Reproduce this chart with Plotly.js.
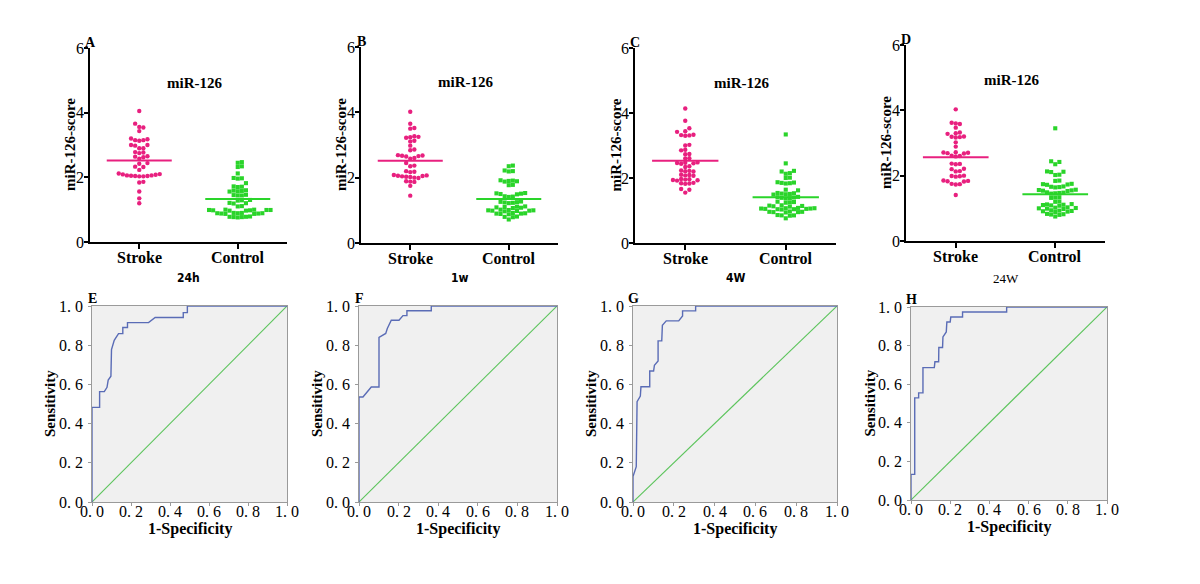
<!DOCTYPE html>
<html><head><meta charset="utf-8">
<script src="https://cdn.plot.ly/plotly-3.0.1.min.js"></script>
<style>html,body{margin:0;padding:0;background:#fff}#chart{width:1200px;height:584px}</style>
</head><body><div id="chart"></div>
<script>
// ---------------- data ----------------
const categories = ['Stroke', 'Control'];
const timeLabels = ['24h', '1w', '4W', '24W'];
const panelLetters = ['A', 'B', 'C', 'D', 'E', 'F', 'G', 'H'];
const scoreTitle = 'miR-126-score';
const markerTitle = 'miR-126';
const scoreTicks = [0, 2, 4, 6];
const rocTicks = [0, 0.2, 0.4, 0.6, 0.8, 1.0];
const rocTickText = ['0.\u00a00', '0.\u00a02', '0.\u00a04', '0.\u00a06', '0.\u00a08', '1.\u00a00'];

const strokeA = [4.05, 3.66, 3.56, 3.54, 3.43, 3.2, 3.18, 3.15, 3.15, 3.13, 3.0, 3.0, 2.98, 2.9, 2.9, 2.78, 2.77, 2.75, 2.65, 2.64, 2.62, 2.58, 2.44, 2.42, 2.33, 2.32, 2.23, 2.12, 2.1, 2.08, 2.06, 2.05, 2.04, 2.03, 2.03, 2.04, 2.06, 2.09, 1.86, 1.84, 1.56, 1.35, 1.2];
const controlA = [2.47, 2.45, 2.34, 2.32, 2.12, 1.98, 1.97, 1.96, 1.82, 1.72, 1.71, 1.70, 1.6, 1.59, 1.58, 1.57, 1.56, 1.46, 1.45, 1.44, 1.44, 1.3, 1.29, 1.28, 1.21, 1.2, 1.19, 1.11, 1.1, 1.0, 0.99, 0.99, 0.98, 0.98, 0.97, 0.97, 1.0, 0.99, 0.9, 0.89, 0.89, 0.88, 0.88, 0.87, 0.87, 0.9, 0.89, 0.79, 0.78, 0.78, 0.77, 0.77, 0.76];
const strokeB = [4.02, 3.65, 3.52, 3.5, 3.27, 3.25, 3.24, 3.22, 3.13, 3.11, 2.98, 2.86, 2.84, 2.69, 2.68, 2.67, 2.66, 2.65, 2.6, 2.58, 2.45, 2.37, 2.35, 2.2, 2.18, 2.17, 2.08, 2.07, 2.06, 2.05, 2.04, 2.03, 2.02, 2.0, 1.99, 1.89, 1.88, 1.87, 1.75, 1.45];
const controlB = [2.37, 2.35, 2.22, 2.2, 2.19, 1.92, 1.91, 1.9, 1.89, 1.88, 1.78, 1.77, 1.53, 1.52, 1.51, 1.5, 1.49, 1.43, 1.42, 1.41, 1.27, 1.26, 1.25, 1.24, 1.23, 1.22, 1.12, 1.11, 1.1, 1.09, 1.08, 1.07, 1.02, 1.01, 1.0, 1.0, 0.99, 0.99, 0.98, 0.97, 0.92, 0.91, 0.9, 0.9, 0.89, 0.88, 0.81, 0.8, 0.79, 0.72];
const strokeC = [4.14, 3.76, 3.53, 3.44, 3.42, 3.33, 3.32, 3.31, 3.3, 3.02, 3.0, 2.87, 2.85, 2.74, 2.73, 2.61, 2.6, 2.48, 2.47, 2.46, 2.45, 2.44, 2.36, 2.34, 2.23, 2.22, 2.21, 2.2, 2.1, 2.09, 2.08, 2.07, 1.97, 1.96, 1.95, 1.94, 1.93, 1.92, 1.85, 1.84, 1.83, 1.82, 1.66, 1.64, 1.55];
const controlC = [3.34, 2.45, 2.22, 2.2, 2.15, 2.13, 2.01, 2.0, 1.87, 1.86, 1.85, 1.84, 1.83, 1.64, 1.62, 1.54, 1.53, 1.52, 1.51, 1.5, 1.49, 1.42, 1.41, 1.4, 1.39, 1.38, 1.37, 1.27, 1.26, 1.25, 1.24, 1.16, 1.15, 1.14, 1.13, 1.12, 1.08, 1.07, 1.07, 1.06, 1.06, 1.05, 1.05, 1.04, 1.04, 1.03, 0.97, 0.96, 0.96, 0.95, 0.95, 0.94, 0.86, 0.85, 0.85, 0.84, 0.76];
const strokeD = [4.03, 3.62, 3.6, 3.58, 3.47, 3.32, 3.3, 3.28, 3.2, 3.19, 3.18, 3.17, 3.02, 2.89, 2.72, 2.71, 2.7, 2.69, 2.68, 2.61, 2.6, 2.59, 2.37, 2.36, 2.35, 2.21, 2.2, 2.14, 2.13, 2.0, 1.99, 1.98, 1.97, 1.85, 1.84, 1.83, 1.82, 1.75, 1.74, 1.73, 1.41];
const controlD = [3.45, 2.44, 2.42, 2.35, 2.13, 2.12, 2.11, 2.03, 2.02, 1.85, 1.84, 1.75, 1.74, 1.73, 1.72, 1.67, 1.66, 1.65, 1.64, 1.57, 1.56, 1.55, 1.54, 1.53, 1.49, 1.48, 1.47, 1.46, 1.45, 1.34, 1.33, 1.32, 1.21, 1.2, 1.13, 1.12, 1.11, 1.1, 1.09, 1.08, 1.03, 1.02, 1.01, 1.0, 0.99, 0.98, 0.94, 0.93, 0.92, 0.91, 0.9, 0.89, 0.83, 0.82, 0.81, 0.8, 0.75];
const strokeMean = [2.52, 2.52, 2.53, 2.56];
const controlMean = [1.33, 1.35, 1.41, 1.43];

const rocFprE = [0, 0, 0.039, 0.039, 0.063, 0.077, 0.083, 0.097, 0.1, 0.114, 0.136, 0.158, 0.158, 0.182, 0.182, 0.29, 0.324, 0.468, 0.468, 0.489, 0.489, 1];
const rocTprE = [0, 0.483, 0.483, 0.563, 0.563, 0.585, 0.622, 0.642, 0.778, 0.825, 0.859, 0.859, 0.89, 0.89, 0.915, 0.915, 0.941, 0.941, 0.966, 0.966, 1, 1];
const rocFprF = [0, 0, 0.02, 0.062, 0.101, 0.101, 0.135, 0.143, 0.163, 0.202, 0.222, 0.242, 0.242, 0.365, 0.365, 1];
const rocTprF = [0, 0.536, 0.536, 0.587, 0.587, 0.84, 0.86, 0.885, 0.927, 0.927, 0.951, 0.951, 0.976, 0.976, 1, 1];
const rocFprG = [0, 0, 0.016, 0.02, 0.036, 0.039, 0.082, 0.082, 0.101, 0.105, 0.123, 0.123, 0.141, 0.144, 0.163, 0.224, 0.243, 0.243, 0.307, 0.307, 1];
const rocTprG = [0, 0.13, 0.18, 0.512, 0.54, 0.588, 0.588, 0.668, 0.668, 0.698, 0.719, 0.822, 0.822, 0.902, 0.924, 0.924, 0.949, 0.975, 0.975, 1, 1];
const rocFprH = [0, 0, 0.019, 0.019, 0.039, 0.039, 0.061, 0.061, 0.119, 0.122, 0.141, 0.142, 0.161, 0.163, 0.18, 0.183, 0.2, 0.203, 0.263, 0.263, 0.488, 0.488, 1];
const rocTprH = [0, 0.133, 0.133, 0.529, 0.529, 0.555, 0.555, 0.686, 0.686, 0.716, 0.716, 0.79, 0.79, 0.845, 0.871, 0.922, 0.922, 0.948, 0.948, 0.974, 0.974, 1, 1];
const refLine = [0, 1];

// ---------------- layout geometry (pixels) ----------------
const W = 1200, H = 584;
const topX = [[90, 287], [361, 558], [635, 836], [906, 1105]];
const topY = [[242, 48], [243, 47], [243, 48], [241, 45]];
const botX = [[92, 287], [359, 557], [633, 837], [911, 1107]];
const botY = [[502, 306], [502, 306], [502, 306], [500, 307]];

const strokeSets = [strokeA, strokeB, strokeC, strokeD];
const controlSets = [controlA, controlB, controlC, controlD];
const rocFpr = [rocFprE, rocFprF, rocFprG, rocFprH];
const rocTpr = [rocTprE, rocTprF, rocTprG, rocTprH];

const PINK = '#e8207f', GREEN = '#2ad42a';
const SERIF = 'Liberation Serif, Times New Roman, serif';
const BLACK = '#000000';

function swarm(values, center, pxPerX, pxPerY, step) {
  const idx = values.map((v, i) => i).sort((a, b) => values[a] - values[b]);
  const placed = [];
  const xs = new Array(values.length);
  for (const i of idx) {
    const py = values[i] * pxPerY;
    let off = 0;
    for (let s = 0; s < 200; s++) {
      off = s === 0 ? 0 : (s % 2 ? 1 : -1) * Math.ceil(s / 2) * step;
      if (placed.every(p => Math.hypot(p[0] - off, p[1] - py) >= step * 0.97)) break;
    }
    placed.push([off, py]);
    xs[i] = center + off / pxPerX;
  }
  return xs;
}

const data = [];
const layout = {
  width: W, height: H, margin: {l: 0, r: 0, t: 0, b: 0},
  paper_bgcolor: '#ffffff', plot_bgcolor: 'rgba(0,0,0,0)',
  showlegend: false, annotations: [], shapes: []
};

function ax(n) { return n === 1 ? '' : String(n); }

for (let i = 0; i < 4; i++) {
  const n = i + 1;
  const xa = 'x' + ax(n), ya = 'y' + ax(n);
  const [x0, x1] = topX[i], [y0, y1] = topY[i];
  const pxPerX = (x1 - x0) / 2, pxPerY = (y0 - y1) / 6;
  const sv = strokeSets[i], cv = controlSets[i];
  data.push({type: 'scatter', mode: 'markers', xaxis: xa, yaxis: ya, cliponaxis: false,
    x: swarm(sv, 0, pxPerX, pxPerY, 4.1), y: sv,
    marker: {symbol: 'circle', size: 4.4, color: PINK}, hoverinfo: 'y'});
  data.push({type: 'scatter', mode: 'markers', xaxis: xa, yaxis: ya, cliponaxis: false,
    x: swarm(cv, 1, pxPerX, pxPerY, 4.1), y: cv,
    marker: {symbol: 'square', size: 4.1, color: GREEN}, hoverinfo: 'y'});
  data.push({type: 'scatter', mode: 'lines', xaxis: xa, yaxis: ya,
    x: [-0.33, 0.33], y: [strokeMean[i], strokeMean[i]], line: {color: PINK, width: 2}});
  data.push({type: 'scatter', mode: 'lines', xaxis: xa, yaxis: ya,
    x: [0.67, 1.33], y: [controlMean[i], controlMean[i]], line: {color: GREEN, width: 2}});

  layout['xaxis' + ax(n)] = {
    domain: [x0 / W, x1 / W], anchor: ya, range: [-0.5, 1.5],
    tickvals: [0, 1], showticklabels: false,
    ticks: 'outside', ticklen: 5, tickwidth: 2, tickcolor: BLACK,
    showline: true, linecolor: BLACK, linewidth: 2,
    showgrid: false, zeroline: false, fixedrange: true
  };
  layout['yaxis' + ax(n)] = {
    domain: [1 - y0 / H, 1 - y1 / H], anchor: xa, range: [0, 6],
    tickvals: scoreTicks, showticklabels: false,
    ticks: 'outside', ticklen: 4, tickwidth: 2, tickcolor: BLACK,
    showline: true, linecolor: BLACK, linewidth: 2,
    showgrid: false, zeroline: false, fixedrange: true
  };
  scoreTicks.forEach(t => layout.annotations.push(
    {xref: xa + ' domain', yref: ya, x: 0, y: t, xshift: -4, xanchor: 'right', yanchor: 'middle',
     text: String(t), showarrow: false, font: {family: SERIF, size: 16, color: BLACK}}));
  categories.forEach((c, k) => layout.annotations.push(
    {xref: xa, yref: ya + ' domain', x: k, y: 0, yshift: -15, xanchor: 'center', yanchor: 'middle',
     text: '<b>' + c + '</b>', showarrow: false, font: {family: SERIF, size: 16, color: BLACK}}));
  layout.annotations.push(
    {xref: xa + ' domain', yref: ya + ' domain', x: 0.53, y: 0.82, xanchor: 'center', yanchor: 'middle',
     text: '<b>' + markerTitle + '</b>', showarrow: false, font: {family: SERIF, size: 15, color: BLACK}},
    {xref: xa + ' domain', yref: ya + ' domain', x: 0, y: 0.5, xshift: -20, xanchor: 'center', yanchor: 'middle',
     text: '<b>' + scoreTitle + '</b>', textangle: -90, showarrow: false, font: {family: SERIF, size: 15, color: BLACK}},
    {xref: xa + ' domain', yref: ya + ' domain', x: 0, y: 1, xanchor: 'center', yanchor: 'middle', yshift: 6,
     text: '<b>' + panelLetters[i] + '</b>', showarrow: false, font: {family: SERIF, size: 14, color: BLACK}},
    {xref: xa + ' domain', yref: 'paper', x: 0.5, y: 1 - 278 / H, xanchor: 'center', yanchor: 'middle',
     text: timeLabels[i], showarrow: false,
     font: i === 3 ? {family: SERIF, size: 13, color: BLACK}
                   : {family: 'Liberation Sans Narrow, DejaVu Sans Condensed, Liberation Sans, sans-serif', size: 12, color: BLACK, weight: 'bold'}}
  );
}

for (let i = 0; i < 4; i++) {
  const n = i + 5;
  const xa = 'x' + ax(n), ya = 'y' + ax(n);
  const [x0, x1] = botX[i], [y0, y1] = botY[i];
  layout.shapes.push({type: 'rect', xref: xa + ' domain', yref: ya + ' domain', x0: 0, x1: 1, y0: 0, y1: 1,
    fillcolor: '#f0f0f0', line: {width: 0}, layer: 'below'});
  data.push({type: 'scatter', mode: 'lines', xaxis: xa, yaxis: ya, cliponaxis: false,
    x: refLine, y: refLine, line: {color: '#5cc45c', width: 1.1}});
  data.push({type: 'scatter', mode: 'lines', xaxis: xa, yaxis: ya, cliponaxis: false,
    x: rocFpr[i], y: rocTpr[i], line: {color: '#5a6cb6', width: 1.4}});
  const common = {
    range: [0, 1], tickvals: rocTicks, showticklabels: false,
    ticks: 'outside', ticklen: 3, tickwidth: 1, tickcolor: '#9a9a9a',
    showline: true, mirror: true, linecolor: '#9a9a9a', linewidth: 1,
    showgrid: false, zeroline: false, fixedrange: true
  };
  layout['xaxis' + ax(n)] = Object.assign({domain: [x0 / W, x1 / W], anchor: ya}, common);
  layout['yaxis' + ax(n)] = Object.assign({domain: [1 - y0 / H, 1 - y1 / H], anchor: xa}, common);
  rocTicks.forEach((t, k) => layout.annotations.push(
    {xref: xa, yref: ya + ' domain', x: t, y: 0, yshift: -9, xanchor: 'center', yanchor: 'middle',
     text: rocTickText[k], showarrow: false, font: {family: SERIF, size: 16, color: BLACK}},
    {xref: xa + ' domain', yref: ya, x: 0, y: t, xshift: -7, xanchor: 'right', yanchor: 'middle',
     text: rocTickText[k], showarrow: false, font: {family: SERIF, size: 16, color: BLACK}}));
  layout.annotations.push(
    {xref: xa + ' domain', yref: ya + ' domain', x: 0, y: 0.5, xshift: -42, xanchor: 'center', yanchor: 'middle',
     text: '<b>Sensitivity</b>', textangle: -90, showarrow: false, font: {family: SERIF, size: 15, color: BLACK}},
    {xref: xa + ' domain', yref: ya + ' domain', x: 0.5, y: 0, yshift: -27, xanchor: 'center', yanchor: 'middle',
     text: '<b>1-Specificity</b>', showarrow: false, font: {family: SERIF, size: 16, color: BLACK}},
    {xref: xa + ' domain', yref: ya + ' domain', x: 0, y: 1, xanchor: 'center', yanchor: 'middle', yshift: 8,
     text: '<b>' + panelLetters[i + 4] + '</b>', showarrow: false, font: {family: SERIF, size: 14, color: BLACK}}
  );
}

Plotly.newPlot('chart', data, layout, {displayModeBar: false, staticPlot: true});
</script>
</body></html>
